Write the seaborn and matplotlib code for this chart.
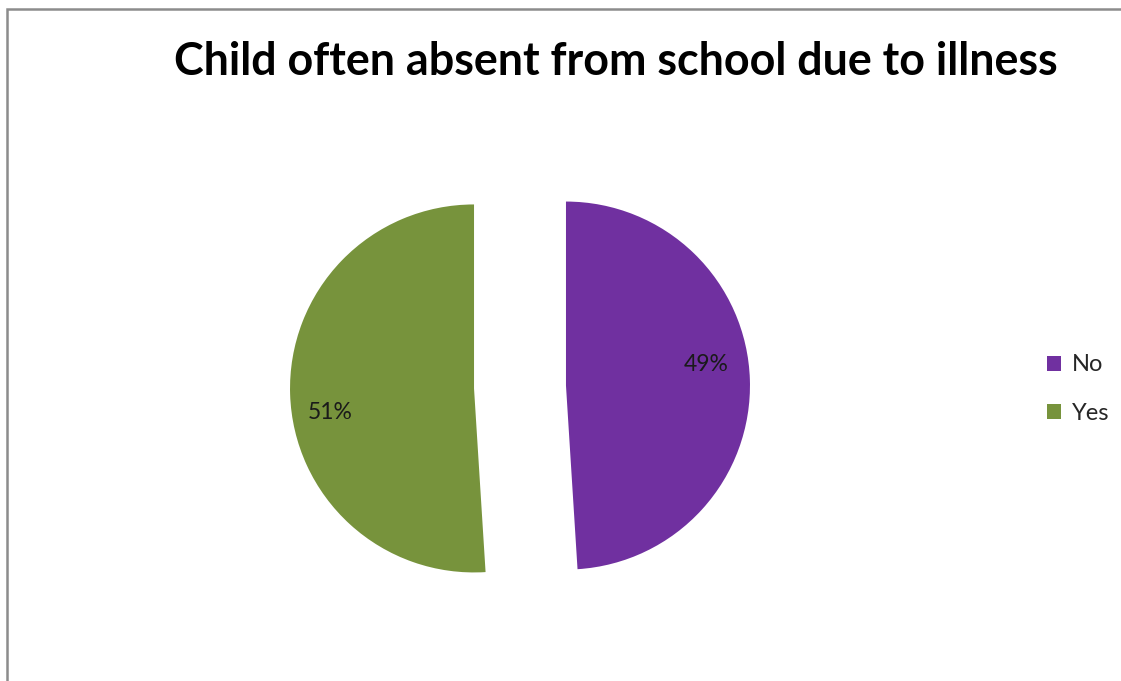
import matplotlib
matplotlib.use("Agg")
import matplotlib.pyplot as plt
import seaborn as sns
from matplotlib.patches import Patch, Rectangle

sns.set_theme(style="white")
plt.rcParams["font.family"] = ["Lato", "DejaVu Sans"]

# data
categories = ["No", "Yes"]
shares = [49, 51]
colours = ["#7030A0", "#77933C"]
title = "Child often absent from school due to illness"

W, H = 1121, 681
fig = plt.figure(figsize=(W / 100, H / 100), dpi=100)

# chart frame (gray border at top and left, runs off the page)
fig.patches.append(Rectangle((6.5 / W, -0.1), 1.2, (H - 8.5) / H + 0.1,
                             transform=fig.transFigure, fill=False,
                             edgecolor="#8c8c8c", linewidth=1.8))

# pie axes: centre ~ (520, 387) px, radius ~ 184 px
r_px, cx, cy = 184, 520, 387
half = 1.5 * r_px
ax = fig.add_axes([(cx - half) / W, (H - cy - half) / H, 2 * half / W, 2 * half / H])
wedges, texts, autotexts = ax.pie(
    shares, colors=colours, startangle=90, counterclock=False,
    explode=[0.25, 0.25], autopct="%1.0f%%", pctdistance=0.73,
    wedgeprops=dict(linewidth=0), textprops=dict(fontsize=16.5, color="#1a1a1a"))
autotexts[0].set_position((autotexts[0].get_position()[0] + 0.03,
                           autotexts[0].get_position()[1] + 0.09))
autotexts[1].set_position((autotexts[1].get_position()[0] - 0.05,
                           autotexts[1].get_position()[1] - 0.11))
ax.set_xlim(-1.5, 1.5)
ax.set_ylim(-1.5, 1.5)
ax.set_aspect("equal")
ax.axis("off")

fig.text(616 / W, 1 - 62 / H, title, ha="center", va="center",
         fontsize=32.3, fontweight="bold", color="black")

handles = [Patch(facecolor=c, edgecolor="none") for c in colours]
fig.legend(handles, categories, loc="center left", bbox_to_anchor=(1026 / W, 1 - 389 / H),
           frameon=False, fontsize=17, handlelength=0.6, handleheight=0.6,
           handletextpad=0.45, labelspacing=1.15)

fig.savefig("out.png", dpi=100, facecolor="white")
